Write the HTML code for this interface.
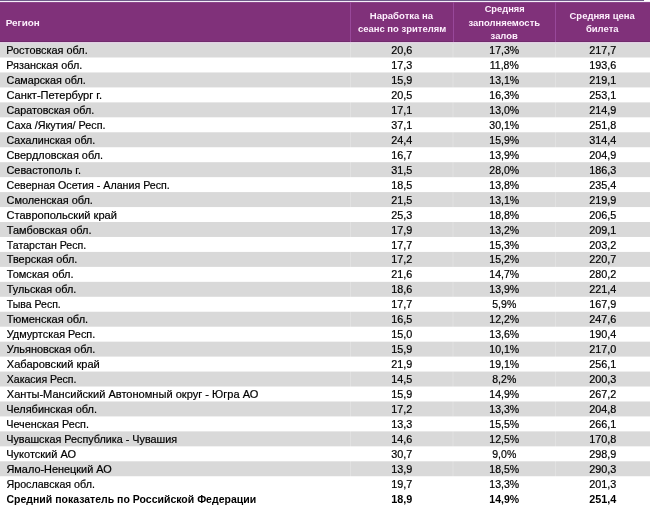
<!DOCTYPE html><html lang="ru"><head><meta charset="utf-8"><title>Таблица</title><style>

html,body{margin:0;padding:0;background:#fff;}
body{width:654px;height:509px;position:relative;overflow:hidden;font-family:"Liberation Sans",sans-serif;color:#000;}
.bg{position:absolute;left:0;top:0;}
.ln{position:absolute;left:0;height:1px;}
.hdr{position:absolute;left:0;top:2px;width:650.0px;height:40px;background:#80317a;}
.sep{position:absolute;top:2px;width:1px;height:40px;background:#98489a;}
.t{position:absolute;left:0;top:0;white-space:nowrap;font-size:11.15px;line-height:16px;height:16px;-webkit-text-stroke:0.2px #000;transform-origin:0 0;}
.t.n{transform-origin:50% 0;}
.t.b{font-weight:bold;-webkit-text-stroke:0;}
.h{position:absolute;left:0;top:0;white-space:nowrap;color:#fdf0fd;font-weight:bold;font-size:9.4px;line-height:14px;height:14px;transform-origin:0 0;}
.h.n{transform-origin:50% 0;}

</style></head><body>
<svg class="bg" width="654" height="509" viewBox="0 0 654 509"><rect x="0" y="42.0" width="650.0" height="15.505" fill="#d9d9d9"/><rect x="0" y="72.46" width="650.0" height="14.955" fill="#d9d9d9"/><rect x="0" y="102.37" width="650.0" height="14.955" fill="#d9d9d9"/><rect x="0" y="132.28" width="650.0" height="14.955" fill="#d9d9d9"/><rect x="0" y="162.19" width="650.0" height="14.955" fill="#d9d9d9"/><rect x="0" y="192.1" width="650.0" height="14.955" fill="#d9d9d9"/><rect x="0" y="222.01" width="650.0" height="14.955" fill="#d9d9d9"/><rect x="0" y="251.92" width="650.0" height="14.955" fill="#d9d9d9"/><rect x="0" y="281.83" width="650.0" height="14.955" fill="#d9d9d9"/><rect x="0" y="311.74" width="650.0" height="14.955" fill="#d9d9d9"/><rect x="0" y="341.65" width="650.0" height="14.955" fill="#d9d9d9"/><rect x="0" y="371.56" width="650.0" height="14.955" fill="#d9d9d9"/><rect x="0" y="401.47" width="650.0" height="14.955" fill="#d9d9d9"/><rect x="0" y="431.38" width="650.0" height="14.955" fill="#d9d9d9"/><rect x="0" y="461.29" width="650.0" height="14.955" fill="#d9d9d9"/><rect x="350.0" y="44" width="1" height="448" fill="#fff" opacity="0.22"/><rect x="452.5" y="44" width="1" height="448" fill="#fff" opacity="0.22"/><rect x="555.0" y="44" width="1" height="448" fill="#fff" opacity="0.22"/></svg>
<div class="ln" style="top:0;width:644px;background:#6e5a88"></div>
<div class="ln" style="top:1px;width:650px;background:#f6eef9"></div>
<div class="hdr"></div>
<div class="ln" style="top:2px;width:650px;background:#8c468b"></div>
<div class="ln" style="top:41px;width:650px;background:#712a6c"></div>
<div class="ln" style="top:42px;width:650px;background:#e0d0e1"></div>
<div class="ln" style="top:43px;width:650px;background:#dcd8df"></div>
<div class="sep" style="left:350.0px"></div>
<div class="sep" style="left:452.5px"></div>
<div class="sep" style="left:555.0px"></div>
<div class="h" style="transform:translate(5.7px,15.8px) scaleX(1.0568)">Регион</div>
<div class="h n" style="transform:translate(401.45px,9.0px) translateX(-50%) scaleX(1.0195)">Наработка на</div>
<div class="h n" style="transform:translate(402.1px,22.0px) translateX(-50%) scaleX(1.0089)">сеанс по зрителям</div>
<div class="h n" style="transform:translate(504.625px,2.4px) translateX(-50%) scaleX(0.9922)">Средняя</div>
<div class="h n" style="transform:translate(504.25px,15.6px) translateX(-50%) scaleX(1.0082)">заполняемость</div>
<div class="h n" style="transform:translate(504.175px,28.8px) translateX(-50%) scaleX(1.0047)">залов</div>
<div class="h n" style="transform:translate(602.175px,8.9px) translateX(-50%) scaleX(1.0082)">Средняя цена</div>
<div class="h n" style="transform:translate(602.25px,21.8px) translateX(-50%) scaleX(1.0129)">билета</div>
<div class="t" style="transform:translate(6.25px,42.1px) scaleX(0.9774)">Ростовская обл.</div>
<div class="t n" style="transform:translate(401.75px,42.1px) translateX(-50%) scaleX(0.972)">20,6</div>
<div class="t n" style="transform:translate(504.25px,42.1px) translateX(-50%) scaleX(0.944784)">17,3%</div>
<div class="t n" style="transform:translate(602.75px,42.1px) translateX(-50%) scaleX(0.972)">217,7</div>
<div class="t" style="transform:translate(6.25px,57.055px) scaleX(0.9707)">Рязанская обл.</div>
<div class="t n" style="transform:translate(401.75px,57.055px) translateX(-50%) scaleX(0.972)">17,3</div>
<div class="t n" style="transform:translate(504.25px,57.055px) translateX(-50%) scaleX(0.944784)">11,8%</div>
<div class="t n" style="transform:translate(602.75px,57.055px) translateX(-50%) scaleX(0.972)">193,6</div>
<div class="t" style="transform:translate(6.5px,72.01px) scaleX(0.965)">Самарская обл.</div>
<div class="t n" style="transform:translate(401.75px,72.01px) translateX(-50%) scaleX(0.972)">15,9</div>
<div class="t n" style="transform:translate(504.25px,72.01px) translateX(-50%) scaleX(0.944784)">13,1%</div>
<div class="t n" style="transform:translate(602.75px,72.01px) translateX(-50%) scaleX(0.972)">219,1</div>
<div class="t" style="transform:translate(6.5px,86.965px) scaleX(0.9932)">Санкт-Петербург г.</div>
<div class="t n" style="transform:translate(401.75px,86.965px) translateX(-50%) scaleX(0.972)">20,5</div>
<div class="t n" style="transform:translate(504.25px,86.965px) translateX(-50%) scaleX(0.944784)">16,3%</div>
<div class="t n" style="transform:translate(602.75px,86.965px) translateX(-50%) scaleX(0.972)">253,1</div>
<div class="t" style="transform:translate(6.5px,101.92px) scaleX(0.9622)">Саратовская обл.</div>
<div class="t n" style="transform:translate(401.75px,101.92px) translateX(-50%) scaleX(0.972)">17,1</div>
<div class="t n" style="transform:translate(504.25px,101.92px) translateX(-50%) scaleX(0.944784)">13,0%</div>
<div class="t n" style="transform:translate(602.75px,101.92px) translateX(-50%) scaleX(0.972)">214,9</div>
<div class="t" style="transform:translate(6.5px,116.875px) scaleX(0.969)">Саха /Якутия/ Респ.</div>
<div class="t n" style="transform:translate(401.75px,116.875px) translateX(-50%) scaleX(0.972)">37,1</div>
<div class="t n" style="transform:translate(504.25px,116.875px) translateX(-50%) scaleX(0.944784)">30,1%</div>
<div class="t n" style="transform:translate(602.75px,116.875px) translateX(-50%) scaleX(0.972)">251,8</div>
<div class="t" style="transform:translate(6.5px,131.83px) scaleX(0.959)">Сахалинская обл.</div>
<div class="t n" style="transform:translate(401.75px,131.83px) translateX(-50%) scaleX(0.972)">24,4</div>
<div class="t n" style="transform:translate(504.25px,131.83px) translateX(-50%) scaleX(0.944784)">15,9%</div>
<div class="t n" style="transform:translate(602.75px,131.83px) translateX(-50%) scaleX(0.972)">314,4</div>
<div class="t" style="transform:translate(6.5px,146.785px) scaleX(0.9772)">Свердловская обл.</div>
<div class="t n" style="transform:translate(401.75px,146.785px) translateX(-50%) scaleX(0.972)">16,7</div>
<div class="t n" style="transform:translate(504.25px,146.785px) translateX(-50%) scaleX(0.944784)">13,9%</div>
<div class="t n" style="transform:translate(602.75px,146.785px) translateX(-50%) scaleX(0.972)">204,9</div>
<div class="t" style="transform:translate(6.5px,161.74px) scaleX(0.9787)">Севастополь г.</div>
<div class="t n" style="transform:translate(401.75px,161.74px) translateX(-50%) scaleX(0.972)">31,5</div>
<div class="t n" style="transform:translate(504.25px,161.74px) translateX(-50%) scaleX(0.944784)">28,0%</div>
<div class="t n" style="transform:translate(602.75px,161.74px) translateX(-50%) scaleX(0.972)">186,3</div>
<div class="t" style="transform:translate(6.5px,176.695px) scaleX(0.9567)">Северная Осетия - Алания Респ.</div>
<div class="t n" style="transform:translate(401.75px,176.695px) translateX(-50%) scaleX(0.972)">18,5</div>
<div class="t n" style="transform:translate(504.25px,176.695px) translateX(-50%) scaleX(0.944784)">13,8%</div>
<div class="t n" style="transform:translate(602.75px,176.695px) translateX(-50%) scaleX(0.972)">235,4</div>
<div class="t" style="transform:translate(6.5px,191.65px) scaleX(0.9792)">Смоленская обл.</div>
<div class="t n" style="transform:translate(401.75px,191.65px) translateX(-50%) scaleX(0.972)">21,5</div>
<div class="t n" style="transform:translate(504.25px,191.65px) translateX(-50%) scaleX(0.944784)">13,1%</div>
<div class="t n" style="transform:translate(602.75px,191.65px) translateX(-50%) scaleX(0.972)">219,9</div>
<div class="t" style="transform:translate(6.5px,206.605px) scaleX(0.9918)">Ставропольский край</div>
<div class="t n" style="transform:translate(401.75px,206.605px) translateX(-50%) scaleX(0.972)">25,3</div>
<div class="t n" style="transform:translate(504.25px,206.605px) translateX(-50%) scaleX(0.944784)">18,8%</div>
<div class="t n" style="transform:translate(602.75px,206.605px) translateX(-50%) scaleX(0.972)">206,5</div>
<div class="t" style="transform:translate(6.75px,221.56px) scaleX(0.9842)">Тамбовская обл.</div>
<div class="t n" style="transform:translate(401.75px,221.56px) translateX(-50%) scaleX(0.972)">17,9</div>
<div class="t n" style="transform:translate(504.25px,221.56px) translateX(-50%) scaleX(0.944784)">13,2%</div>
<div class="t n" style="transform:translate(602.75px,221.56px) translateX(-50%) scaleX(0.972)">209,1</div>
<div class="t" style="transform:translate(6.75px,236.515px) scaleX(0.953)">Татарстан Респ.</div>
<div class="t n" style="transform:translate(401.75px,236.515px) translateX(-50%) scaleX(0.972)">17,7</div>
<div class="t n" style="transform:translate(504.25px,236.515px) translateX(-50%) scaleX(0.944784)">15,3%</div>
<div class="t n" style="transform:translate(602.75px,236.515px) translateX(-50%) scaleX(0.972)">203,2</div>
<div class="t" style="transform:translate(6.75px,251.47px) scaleX(0.9778)">Тверская обл.</div>
<div class="t n" style="transform:translate(401.75px,251.47px) translateX(-50%) scaleX(0.972)">17,2</div>
<div class="t n" style="transform:translate(504.25px,251.47px) translateX(-50%) scaleX(0.944784)">15,2%</div>
<div class="t n" style="transform:translate(602.75px,251.47px) translateX(-50%) scaleX(0.972)">220,7</div>
<div class="t" style="transform:translate(6.75px,266.425px) scaleX(0.9911)">Томская обл.</div>
<div class="t n" style="transform:translate(401.75px,266.425px) translateX(-50%) scaleX(0.972)">21,6</div>
<div class="t n" style="transform:translate(504.25px,266.425px) translateX(-50%) scaleX(0.944784)">14,7%</div>
<div class="t n" style="transform:translate(602.75px,266.425px) translateX(-50%) scaleX(0.972)">280,2</div>
<div class="t" style="transform:translate(6.75px,281.38px) scaleX(0.9714)">Тульская обл.</div>
<div class="t n" style="transform:translate(401.75px,281.38px) translateX(-50%) scaleX(0.972)">18,6</div>
<div class="t n" style="transform:translate(504.25px,281.38px) translateX(-50%) scaleX(0.944784)">13,9%</div>
<div class="t n" style="transform:translate(602.75px,281.38px) translateX(-50%) scaleX(0.972)">221,4</div>
<div class="t" style="transform:translate(6.75px,296.335px) scaleX(0.9432)">Тыва Респ.</div>
<div class="t n" style="transform:translate(401.75px,296.335px) translateX(-50%) scaleX(0.972)">17,7</div>
<div class="t n" style="transform:translate(504.25px,296.335px) translateX(-50%) scaleX(0.944784)">5,9%</div>
<div class="t n" style="transform:translate(602.75px,296.335px) translateX(-50%) scaleX(0.972)">167,9</div>
<div class="t" style="transform:translate(6.75px,311.29px) scaleX(0.9898)">Тюменская обл.</div>
<div class="t n" style="transform:translate(401.75px,311.29px) translateX(-50%) scaleX(0.972)">16,5</div>
<div class="t n" style="transform:translate(504.25px,311.29px) translateX(-50%) scaleX(0.944784)">12,2%</div>
<div class="t n" style="transform:translate(602.75px,311.29px) translateX(-50%) scaleX(0.972)">247,6</div>
<div class="t" style="transform:translate(6.75px,326.245px) scaleX(0.9756)">Удмуртская Респ.</div>
<div class="t n" style="transform:translate(401.75px,326.245px) translateX(-50%) scaleX(0.972)">15,0</div>
<div class="t n" style="transform:translate(504.25px,326.245px) translateX(-50%) scaleX(0.944784)">13,6%</div>
<div class="t n" style="transform:translate(602.75px,326.245px) translateX(-50%) scaleX(0.972)">190,4</div>
<div class="t" style="transform:translate(6.75px,341.2px) scaleX(0.9784)">Ульяновская обл.</div>
<div class="t n" style="transform:translate(401.75px,341.2px) translateX(-50%) scaleX(0.972)">15,9</div>
<div class="t n" style="transform:translate(504.25px,341.2px) translateX(-50%) scaleX(0.944784)">10,1%</div>
<div class="t n" style="transform:translate(602.75px,341.2px) translateX(-50%) scaleX(0.972)">217,0</div>
<div class="t" style="transform:translate(6.75px,356.155px) scaleX(0.9937)">Хабаровский край</div>
<div class="t n" style="transform:translate(401.75px,356.155px) translateX(-50%) scaleX(0.972)">21,9</div>
<div class="t n" style="transform:translate(504.25px,356.155px) translateX(-50%) scaleX(0.944784)">19,1%</div>
<div class="t n" style="transform:translate(602.75px,356.155px) translateX(-50%) scaleX(0.972)">256,1</div>
<div class="t" style="transform:translate(6.75px,371.11px) scaleX(0.9452)">Хакасия Респ.</div>
<div class="t n" style="transform:translate(401.75px,371.11px) translateX(-50%) scaleX(0.972)">14,5</div>
<div class="t n" style="transform:translate(504.25px,371.11px) translateX(-50%) scaleX(0.944784)">8,2%</div>
<div class="t n" style="transform:translate(602.75px,371.11px) translateX(-50%) scaleX(0.972)">200,3</div>
<div class="t" style="transform:translate(6.75px,386.065px) scaleX(0.9929)">Ханты-Мансийский Автономный округ - Югра АО</div>
<div class="t n" style="transform:translate(401.75px,386.065px) translateX(-50%) scaleX(0.972)">15,9</div>
<div class="t n" style="transform:translate(504.25px,386.065px) translateX(-50%) scaleX(0.944784)">14,9%</div>
<div class="t n" style="transform:translate(602.75px,386.065px) translateX(-50%) scaleX(0.972)">267,2</div>
<div class="t" style="transform:translate(6.25px,401.02px) scaleX(0.9838)">Челябинская обл.</div>
<div class="t n" style="transform:translate(401.75px,401.02px) translateX(-50%) scaleX(0.972)">17,2</div>
<div class="t n" style="transform:translate(504.25px,401.02px) translateX(-50%) scaleX(0.944784)">13,3%</div>
<div class="t n" style="transform:translate(602.75px,401.02px) translateX(-50%) scaleX(0.972)">204,8</div>
<div class="t" style="transform:translate(6.25px,415.975px) scaleX(0.97)">Чеченская Респ.</div>
<div class="t n" style="transform:translate(401.75px,415.975px) translateX(-50%) scaleX(0.972)">13,3</div>
<div class="t n" style="transform:translate(504.25px,415.975px) translateX(-50%) scaleX(0.944784)">15,5%</div>
<div class="t n" style="transform:translate(602.75px,415.975px) translateX(-50%) scaleX(0.972)">266,1</div>
<div class="t" style="transform:translate(6.25px,430.93px) scaleX(0.9686)">Чувашская Республика - Чувашия</div>
<div class="t n" style="transform:translate(401.75px,430.93px) translateX(-50%) scaleX(0.972)">14,6</div>
<div class="t n" style="transform:translate(504.25px,430.93px) translateX(-50%) scaleX(0.944784)">12,5%</div>
<div class="t n" style="transform:translate(602.75px,430.93px) translateX(-50%) scaleX(0.972)">170,8</div>
<div class="t" style="transform:translate(6.25px,445.885px) scaleX(0.9873)">Чукотский АО</div>
<div class="t n" style="transform:translate(401.75px,445.885px) translateX(-50%) scaleX(0.972)">30,7</div>
<div class="t n" style="transform:translate(504.25px,445.885px) translateX(-50%) scaleX(0.944784)">9,0%</div>
<div class="t n" style="transform:translate(602.75px,445.885px) translateX(-50%) scaleX(0.972)">298,9</div>
<div class="t" style="transform:translate(6.5px,460.84px) scaleX(0.978)">Ямало-Ненецкий АО</div>
<div class="t n" style="transform:translate(401.75px,460.84px) translateX(-50%) scaleX(0.972)">13,9</div>
<div class="t n" style="transform:translate(504.25px,460.84px) translateX(-50%) scaleX(0.944784)">18,5%</div>
<div class="t n" style="transform:translate(602.75px,460.84px) translateX(-50%) scaleX(0.972)">290,3</div>
<div class="t" style="transform:translate(6.5px,475.795px) scaleX(0.959)">Ярославская обл.</div>
<div class="t n" style="transform:translate(401.75px,475.795px) translateX(-50%) scaleX(0.972)">19,7</div>
<div class="t n" style="transform:translate(504.25px,475.795px) translateX(-50%) scaleX(0.944784)">13,3%</div>
<div class="t n" style="transform:translate(602.75px,475.795px) translateX(-50%) scaleX(0.972)">201,3</div>
<div class="t b" style="transform:translate(6.5px,490.75px) scaleX(0.9427)">Средний показатель по Российской Федерации</div>
<div class="t n b" style="transform:translate(401.75px,490.75px) translateX(-50%) scaleX(0.972)">18,9</div>
<div class="t n b" style="transform:translate(504.25px,490.75px) translateX(-50%) scaleX(0.944784)">14,9%</div>
<div class="t n b" style="transform:translate(602.75px,490.75px) translateX(-50%) scaleX(0.972)">251,4</div>
</body></html>
